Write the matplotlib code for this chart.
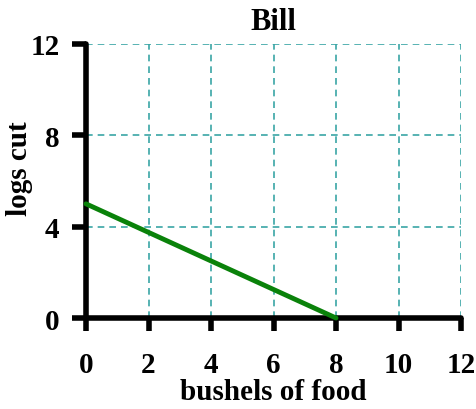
import matplotlib
matplotlib.use("Agg")
import matplotlib.pyplot as plt

title = "Bill"
x_label = "bushels of food"
y_label = "logs cut"
line_x = [0, 8]
line_y = [5, 0]
x_ticks = [0, 2, 4, 6, 8, 10, 12]
y_ticks = [0, 4, 8, 12]

plt.rcParams['font.family'] = ['Liberation Serif', 'DejaVu Serif']
plt.rcParams['font.weight'] = 'bold'

fig = plt.figure(figsize=(4.77, 4.10), dpi=100)
ax = fig.add_axes([86/477, 1-319/410, (461-86)/477, (319-45)/410])

ax.plot(line_x, line_y, color='#0a820a', lw=3.5, solid_capstyle='round', zorder=3, clip_on=False)

ax.set_xlim(0, 12)
ax.set_ylim(0, 12)
ax.set_xticks(x_ticks)
ax.set_yticks(y_ticks)
ax.grid(True, color='#3aa5a5', linestyle=(0, (4, 3)), lw=1.2)
ax.set_axisbelow(True)

for s in ['top', 'right']:
    ax.spines[s].set_visible(False)
for s in ['left', 'bottom']:
    ax.spines[s].set_linewidth(4)
    ax.spines[s].set_capstyle('round')

ax.tick_params(axis='x', length=9, width=4, direction='out', pad=15, labelsize=21)
ax.tick_params(axis='y', length=10, width=4, direction='out', pad=9, labelsize=21)
for t in ax.xaxis.get_ticklines() + ax.yaxis.get_ticklines():
    t.set_solid_capstyle('round')
for lab in ax.get_xticklabels() + ax.get_yticklabels():
    lab.set_fontweight('bold')

ax.set_title(title, fontsize=22, fontweight='bold', pad=11)
ax.set_xlabel(x_label, fontsize=21, fontweight='bold', labelpad=0)
ax.set_ylabel(y_label, fontsize=21, fontweight='bold')
ax.yaxis.set_label_coords(-0.142, 0.55)

fig.savefig("out.png", dpi=100)
